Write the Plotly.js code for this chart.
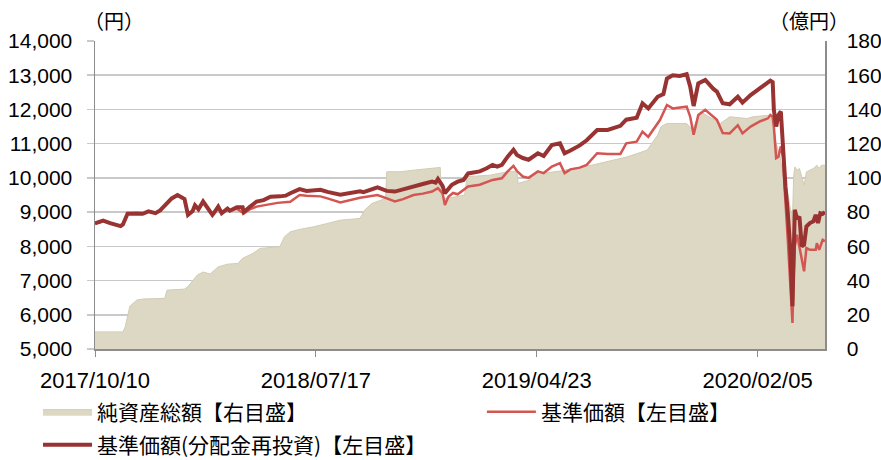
<!DOCTYPE html>
<html>
<head>
<meta charset="utf-8">
<script src="https://cdn.plot.ly/plotly-3.0.1.min.js"></script>
<style>
html,body{margin:0;padding:0;background:#fff;}
#chart{width:881px;height:460px;}
</style>
</head>
<body>
<div id="chart"></div>
<script>
// Trading-day index of tick dates
var tickDays = [0, 190, 380, 570];
var tickLabels = ["2017/10/10", "2018/07/17", "2019/04/23", "2020/02/05"];

// 純資産総額 (億円, right axis)
var assetDay = [0,24,26,28,30,36,41,60,62,77,80,88,93,99,106,114,123,127,136,142,159,163,168,176,188,200,211,228,232,238,245,250,251,263,274,288,297,298,307,318,320,340,355,363,364,374,377,389,400,428,458,475,484,487,492,509,514,521,538,546,561,566,581,584,586,589,591,593,596,597,600,601,602,604,606,608,610,612,615,618,621,623,625,628];
var assetVal = [10,10,13,19,25,28.6,29.2,29.6,34.4,35,36.5,43.2,45,43.8,48,49.6,50,53,55.9,58.8,59.8,65.6,68.5,69.9,71.4,73.4,75.3,76.3,81.2,85,87,88,103.6,103.6,104.5,105.5,106.1,88,88.5,90,100.7,101.6,103.6,104,96.8,98.7,102.6,103,104,107.5,112.3,116.2,125,130,131.8,131.8,128,138.6,131.8,135.7,134.7,135.7,136.7,130,120,114,106,97,91,87,75,100.6,106.4,104.5,105.5,100.6,95.7,103.5,104.5,105.5,107.4,105.5,107.4,107.4];

// 基準価額 (円, left axis)
var navDay = [0,4,7,13,22,24,28,36,41,46,52,56,62,66,71,75,77,80,84,86,89,93,96,101,103,106,109,114,116,122,128,133,139,148,157,168,176,182,194,200,211,228,243,251,258,265,274,282,290,295,299,301,304,308,312,321,331,342,350,355,360,363,368,373,381,386,393,400,404,409,417,423,432,441,452,457,466,471,476,486,492,497,509,512,515,519,525,535,540,546,553,557,564,572,579,581,583,584,586,588,590,592,593,596,597,600,601,602,604,606,608,610,612,615,620,621,623,626,628];
var navVal = [8670,8700,8750,8680,8590,8640,8950,8960,8950,9020,8970,9050,9260,9400,9500,9410,9380,8920,9030,9200,9080,9310,9180,8920,9010,9160,8970,9100,9040,9100,8960,9080,9160,9220,9270,9300,9500,9480,9460,9400,9280,9420,9500,9400,9310,9380,9500,9540,9600,9700,9550,9210,9450,9560,9520,9750,9800,9940,9990,10190,10350,10200,10040,10000,10190,10140,10330,10430,10140,10250,10300,10380,10720,10700,10700,11010,11060,11350,11200,11690,12130,12030,12080,11790,11260,11840,11990,11700,11310,11300,11540,11300,11500,11650,11740,11840,11790,11500,10580,10620,10920,10600,9850,8190,7610,5760,7120,8000,8340,7950,7610,7270,7950,7900,7900,8090,7900,8190,8150];

// 基準価額(分配金再投資) (円, left axis)
var reinvDay = [0,4,7,13,22,24,28,36,41,46,52,56,62,66,71,75,77,80,84,86,89,93,96,101,103,106,109,114,116,122,127,128,133,139,145,151,159,164,168,174,176,182,194,200,211,228,231,243,251,258,265,269,274,282,290,293,295,299,301,304,307,312,317,321,327,331,337,342,346,350,355,360,363,368,373,377,381,386,393,400,404,409,417,423,432,441,452,457,466,471,476,484,489,492,497,503,509,512,515,519,525,532,535,540,546,553,557,564,572,578,581,583,584,586,588,590,592,594,596,598,600,601,602,604,606,608,610,612,615,618,620,622,624,626,628];
var reinvVal = [8670,8700,8750,8680,8590,8640,8950,8960,8950,9020,8970,9050,9260,9400,9500,9410,9380,8920,9030,9200,9080,9310,9180,8920,9010,9160,8970,9100,9040,9140,9140,9000,9150,9310,9350,9450,9460,9480,9550,9650,9670,9620,9650,9590,9510,9610,9580,9720,9620,9600,9670,9720,9770,9820,9890,9860,9970,9770,9550,9700,9800,9890,9940,10130,10180,10190,10280,10380,10330,10380,10620,10820,10670,10580,10530,10620,10720,10640,10960,11010,10720,10800,10950,11100,11400,11400,11520,11700,11760,12180,12030,12370,12450,12900,13000,12980,13030,12670,12100,12760,12860,12600,12520,12180,12150,12370,12200,12420,12620,12780,12840,12800,11990,11500,11840,11940,10720,9750,8970,8000,6250,7400,9070,8800,8870,8000,8050,8580,8680,8730,8920,8680,8970,8950,9000];

var seriesNames = ["純資産総額【右目盛】", "基準価額【左目盛】", "基準価額(分配金再投資)【左目盛】"];

var numFont = {family: "Liberation Sans, Arial, sans-serif", size: 21, color: "#000"};
var dateFont = {family: "Liberation Sans, Arial, sans-serif", size: 22, color: "#000"};
var jpFont = {family: "Noto Sans CJK JP, sans-serif", size: 21, color: "#000"};

var traces = [
  {
    x: assetDay, y: assetVal, name: seriesNames[0], type: "scatter", mode: "lines",
    yaxis: "y", fill: "tozeroy", fillcolor: "#DDD8C3",
    line: {color: "#D2CCB4", width: 1}, legend: "legend"
  },
  {
    x: navDay, y: navVal, name: seriesNames[1], type: "scatter", mode: "lines",
    yaxis: "y2", line: {color: "#D35653", width: 2.5}, legend: "legend2"
  },
  {
    x: reinvDay, y: reinvVal, name: seriesNames[2], type: "scatter", mode: "lines",
    yaxis: "y2", line: {color: "#983332", width: 4}, legend: "legend3"
  }
];

var legendCommon = {
  orientation: "v", xanchor: "left", yanchor: "middle",
  font: jpFont, itemwidth: 49, bgcolor: "rgba(0,0,0,0)", borderwidth: 0
};

var layout = {
  width: 881, height: 460,
  margin: {l: 95, r: 56, t: 41, b: 111, autoexpand: false},
  paper_bgcolor: "#fff", plot_bgcolor: "#fff",
  showlegend: true,
  xaxis: {
    range: [0, 628], tickmode: "array", tickvals: tickDays, ticktext: tickLabels,
    showgrid: false, zeroline: false, showline: true, linecolor: "#8c8c8c", linewidth: 1.5,
    ticks: "outside", ticklen: 6, tickcolor: "#8c8c8c", tickfont: dateFont,
    ticklabelstandoff: 5
  },
  yaxis: {
    range: [0, 180], dtick: 20, side: "right", showgrid: false, zeroline: false,
    showline: true, linecolor: "#8c8c8c", linewidth: 1.5, ticks: "",
    tickfont: numFont, ticklabelstandoff: 16
  },
  yaxis2: {
    range: [5000, 14000], dtick: 1000, overlaying: "y", side: "left",
    tickformat: ",d", showgrid: true, gridcolor: "#c9c9c9", gridwidth: 1.5,
    zeroline: false, showline: true, linecolor: "#8c8c8c", linewidth: 1.5,
    ticks: "outside", ticklen: 7, tickcolor: "#c9c9c9", tickwidth: 1.5,
    tickfont: numFont, ticklabelstandoff: 10
  },
  legend: Object.assign({}, legendCommon, {x: -0.0781, y: -0.2045}),
  legend2: Object.assign({}, legendCommon, {x: 0.530, y: -0.2045}),
  legend3: Object.assign({}, legendCommon, {x: -0.0781, y: -0.3117}),
  annotations: [
    {text: "（円）", xref: "paper", yref: "paper", x: (114 - 95) / 730, y: 1 + (41 - 20) / 308,
     xanchor: "center", yanchor: "middle", showarrow: false, font: {family: "Noto Sans CJK JP, sans-serif", size: 20, color: "#000"}},
    {text: "（億円）", xref: "paper", yref: "paper", x: (809 - 95) / 730, y: 1 + (41 - 20) / 308,
     xanchor: "center", yanchor: "middle", showarrow: false, font: {family: "Noto Sans CJK JP, sans-serif", size: 20, color: "#000"}}
  ]
};

Plotly.newPlot("chart", traces, layout, {staticPlot: true, displayModeBar: false});
</script>
</body>
</html>
